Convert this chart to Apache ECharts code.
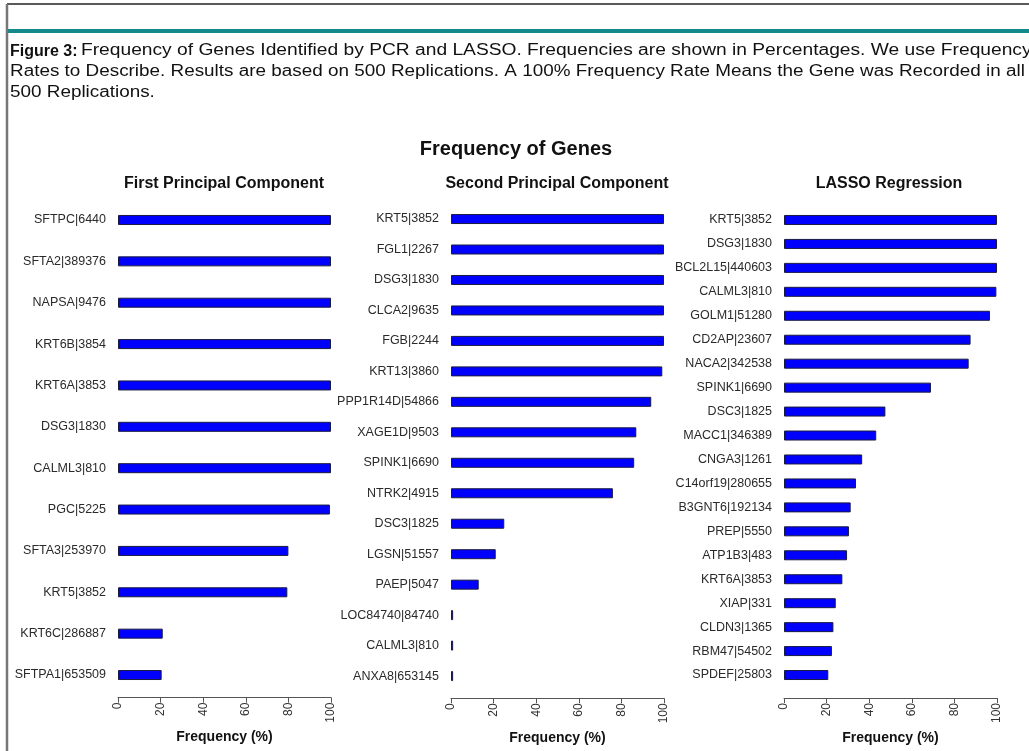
<!DOCTYPE html>
<html><head><meta charset="utf-8">
<script src="https://cdn.jsdelivr.net/npm/echarts@6/dist/echarts.min.js"></script>
<style>html,body{margin:0;padding:0;background:#fff}#c{width:1029px;height:751px}</style>
</head><body><div id="c"></div>
<script>
const pc1Genes = ['SFTPC|6440','SFTA2|389376','NAPSA|9476','KRT6B|3854','KRT6A|3853','DSG3|1830','CALML3|810','PGC|5225','SFTA3|253970','KRT5|3852','KRT6C|286887','SFTPA1|653509'];
const pc1Values = [100,100,100,100,100,100,100,99.5,80,79.5,21,20.5];
const pc2Genes = ['KRT5|3852','FGL1|2267','DSG3|1830','CLCA2|9635','FGB|2244','KRT13|3860','PPP1R14D|54866','XAGE1D|9503','SPINK1|6690','NTRK2|4915','DSC3|1825','LGSN|51557','PAEP|5047','LOC84740|84740','CALML3|810','ANXA8|653145'];
const pc2Values = [100,100,100,100,100,99.2,94,87,86,76,25,21,13,1,1,1];
const lassoGenes = ['KRT5|3852','DSG3|1830','BCL2L15|440603','CALML3|810','GOLM1|51280','CD2AP|23607','NACA2|342538','SPINK1|6690','DSC3|1825','MACC1|346389','CNGA3|1261','C14orf19|280655','B3GNT6|192134','PREP|5550','ATP1B3|483','KRT6A|3853','XIAP|331','CLDN3|1365','RBM47|54502','SPDEF|25803'];
const lassoValues = [100,100,100,99.7,96.7,87.6,86.7,69,47.6,43.3,36.7,33.8,31.3,30.5,29.6,27.4,24.3,23.2,22.5,20.8];
const xTicks = [0,20,40,60,80,100];
const mainTitle = 'Frequency of Genes';
const panelTitles = ['First Principal Component','Second Principal Component','LASSO Regression'];
const axisTitle = 'Frequency (%)';
const captionBold = 'Figure 3:';
const captionLines = ['Frequency of Genes Identified by PCR and LASSO. Frequencies are shown in Percentages. We use Frequency','Rates to Describe. Results are based on 500 Replications. A 100% Frequency Rate Means the Gene was Recorded in all','500 Replications.'];
</script>
<script>
const FONT = 'Liberation Sans, Arial, sans-serif';
const panels = [
  {genes: pc1Genes, values: pc1Values, left: 118, top: 199.3, height: 496.4, offset: 2},
  {genes: pc2Genes, values: pc2Values, left: 451, top: 203.8, height: 487.5, offset: 7},
  {genes: lassoGenes, values: lassoValues, left: 784, top: 208, height: 479, offset: 11}
];
const chart = echarts.init(document.getElementById('c'), null, {renderer:'canvas'});
const grids=[], xAxes=[], yAxes=[], series=[];
panels.forEach((p,i)=>{
  grids.push({left:p.left, top:p.top, width:213, height:p.height, containLabel:false});
  xAxes.push({type:'value', gridIndex:i, min:0, max:100, interval:20, offset:p.offset,
    axisLine:{show:true, lineStyle:{color:'#555', width:1}},
    axisTick:{show:true, length:5, lineStyle:{color:'#555'}},
    splitLine:{show:false},
    axisLabel:{rotate:90, color:'#333', fontSize:12, fontFamily:FONT, margin:5,
      formatter:v=> xTicks.includes(v)? String(v):''},
    name:axisTitle, nameLocation:'middle', nameGap:30-p.offset+2,
    nameTextStyle:{fontSize:14, fontWeight:'bold', color:'#111', fontFamily:FONT}
  });
  yAxes.push({type:'category', gridIndex:i, inverse:true, data:p.genes,
    axisLine:{show:false}, axisTick:{show:false},
    axisLabel:{color:'#2a2a2a', fontSize:12.5, fontFamily:FONT, margin:12}
  });
  series.push({type:'bar', xAxisIndex:i, yAxisIndex:i, data:p.values, barWidth:10,
    itemStyle:{color:'#0000ff', borderColor:'#1a1a40', borderWidth:1}, silent:true, animation:false});
});
const capStyle = {fontSize:16, fontFamily:FONT, fill:'#111'};
const SX = 1.18;
const graphics = [
  {type:'line', shape:{x1:7,y1:4,x2:1029,y2:4}, style:{stroke:'#222', lineWidth:1.5}},
  {type:'line', shape:{x1:7,y1:4,x2:7,y2:751}, style:{stroke:'#777', lineWidth:2.5}},
  {type:'rect', shape:{x:8,y:29,width:1021,height:4}, style:{fill:'#158a8a'}},
  {type:'text', x:10, y:43.5, style:{text:captionBold, fontWeight:'bold', fontSize:16, fontFamily:FONT, fill:'#111'}},
  {type:'text', x:81, y:43, scaleX:1.2, style:Object.assign({text:captionLines[0]}, capStyle)},
  {type:'text', x:10, y:64, scaleX:SX, style:Object.assign({text:captionLines[1]}, capStyle)},
  {type:'text', x:10, y:85, scaleX:SX, style:Object.assign({text:captionLines[2]}, capStyle)}
];
const titles = [
  {text:mainTitle, left:511, top:134, textAlign:'center', textStyle:{fontSize:20, fontWeight:'bold', color:'#111', fontFamily:FONT}},
  {text:panelTitles[0], left:219, top:171, textAlign:'center', textStyle:{fontSize:16, fontWeight:'bold', color:'#111', fontFamily:FONT}},
  {text:panelTitles[1], left:552, top:171, textAlign:'center', textStyle:{fontSize:16, fontWeight:'bold', color:'#111', fontFamily:FONT}},
  {text:panelTitles[2], left:884, top:171, textAlign:'center', textStyle:{fontSize:16, fontWeight:'bold', color:'#111', fontFamily:FONT}}
];
chart.setOption({animation:false, backgroundColor:'#fff', title:titles, grid:grids, xAxis:xAxes, yAxis:yAxes, series:series, graphic:graphics});
</script>
</body></html>
